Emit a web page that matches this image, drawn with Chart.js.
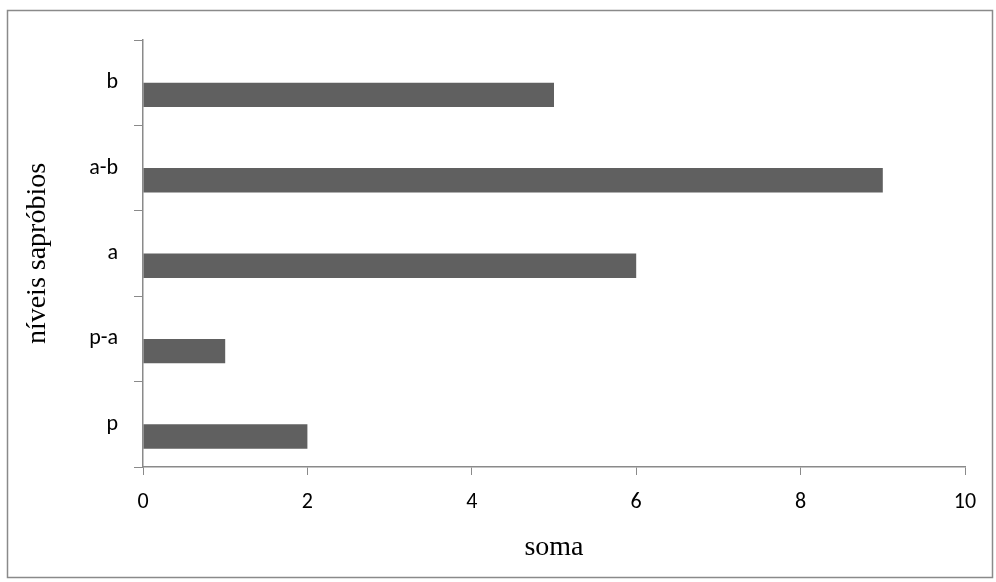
<!DOCTYPE html>
<html>
<head>
<meta charset="utf-8">
<script src="https://cdn.jsdelivr.net/npm/chart.js@4.4.1/dist/chart.umd.min.js"></script>
<style>
  body { margin: 0; background: #fff; }
  #wrap { width: 996px; height: 582px; }
</style>
</head>
<body>
<div id="wrap"><canvas id="chart" width="996" height="582"></canvas></div>
<script>
// categories, top to bottom as in the picture
const categories = ["b", "a-b", "a", "p-a", "p"];
const soma = [5, 9, 6, 1, 2];
// the empty first series leaves the visible bars sitting below the label, as excel did
const emptySeries = [null, null, null, null, null];
const xTicks = [0, 2, 4, 6, 8, 10];

const sansFont = "Carlito, Calibri, Lato, sans-serif";
const serifFont = "'Liberation Serif', 'Times New Roman', serif";
const axisGray = "#8a8a8a";

// outer frame round the whole chart
const framePlugin = {
  id: "frame",
  beforeDraw(chart) {
    let ctx = chart.ctx;
    ctx.save();
    ctx.fillStyle = "#fff";
    ctx.fillRect(0, 0, chart.width, chart.height);
    ctx.strokeStyle = axisGray;
    ctx.lineWidth = 1.5;
    ctx.strokeRect(7.5, 10.5, 985, 567);
    ctx.restore();
  }
};

let lineChart = document.getElementById("chart");
new Chart(lineChart, {
  type: "bar",
  data: {
    labels: categories,
    datasets: [
      { label: "", data: emptySeries, backgroundColor: "#606060" },
      { label: "soma", data: soma, backgroundColor: "#606060" }
    ]
  },
  options: {
    indexAxis: "y",
    responsive: false,
    animation: false,
    categoryPercentage: 2 / 3.5,
    barPercentage: 1,
    layout: { padding: { top: 40, right: 31, left: 0, bottom: 0 } },
    plugins: {
      legend: { display: false },
      tooltip: { enabled: false }
    },
    scales: {
      x: {
        min: 0,
        max: 10,
        afterBuildTicks: (axis) => { axis.ticks = xTicks.map(v => ({ value: v })); },
        afterFit: (axis) => { axis.height = 582 - 467; },
        grid: { drawOnChartArea: false, drawTicks: true, tickLength: 8, color: axisGray },
        border: { color: axisGray, width: 1.5 },
        ticks: { color: "#000", padding: 14, font: { family: sansFont, size: 22 } },
        title: {
          display: true,
          text: "soma",
          color: "#000",
          font: { family: serifFont, size: 28 },
          padding: { top: 0, bottom: 18 }
        }
      },
      y: {
        afterFit: (axis) => { axis.width = 143; },
        grid: { offset: true, drawOnChartArea: false, drawTicks: true, tickLength: 9, color: axisGray },
        border: { color: axisGray, width: 1.5 },
        ticks: { color: "#000", padding: 16, font: { family: sansFont, size: 22 } },
        title: {
          display: true,
          text: "níveis sapróbios",
          color: "#000",
          font: { family: serifFont, size: 28 },
          padding: { top: 21, bottom: 0 }
        }
      }
    }
  },
  plugins: [framePlugin]
});
</script>
</body>
</html>
